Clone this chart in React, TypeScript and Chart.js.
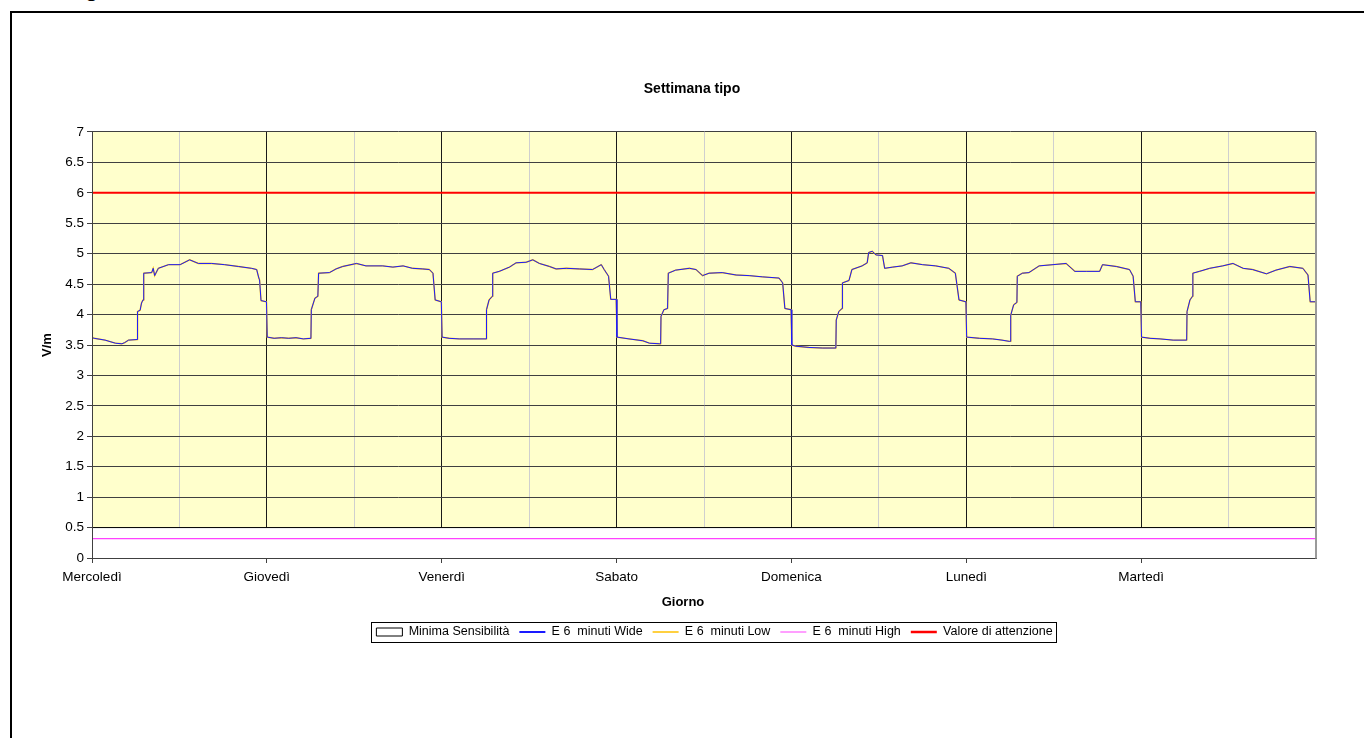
import React, { useEffect, useRef } from "react";
import { Chart, registerables } from "chart.js";

Chart.register(...registerables);

// ---- data (hours from the start of each day, V/m) ----
const dayNames = ["Mercoledì", "Giovedì", "Venerdì", "Sabato", "Domenica", "Lunedì", "Martedì"];

const mercoledi: number[][] = [
  [0, 4.2], [0.05, 3.62], [0.3, 3.61], [1.8, 3.58], [3.2, 3.53], [4.1, 3.52], [4.5, 3.54], [5, 3.58],
  [6.2, 3.59], [6.25, 4.05], [6.6, 4.07], [6.8, 4.19], [7.0, 4.24], [7.1, 4.68], [8.2, 4.69], [8.4, 4.76],
  [8.6, 4.64], [9.1, 4.76], [10.5, 4.82], [12.1, 4.82], [13.4, 4.9], [14.6, 4.84], [16.4, 4.84], [18.2, 4.82],
  [20.1, 4.79], [21.9, 4.76], [22.6, 4.74], [22.9, 4.6], [23.0, 4.57], [23.2, 4.23], [23.95, 4.21],
];
const giovedi: number[][] = [
  [0.05, 3.63], [1, 3.61], [2, 3.62], [3, 3.61], [4, 3.62], [5, 3.6], [6.05, 3.61], [6.1, 4.08], [6.6, 4.27],
  [7.0, 4.3], [7.1, 4.68], [8.6, 4.69], [9.5, 4.75], [10.4, 4.79], [12.3, 4.84], [13.6, 4.8], [15.9, 4.8],
  [17.3, 4.78], [18.7, 4.8], [20, 4.76], [21.4, 4.75], [22.3, 4.74], [22.8, 4.68], [23.1, 4.24], [23.95, 4.21],
];
const venerdi: number[][] = [
  [0.05, 3.63], [1, 3.61], [2.4, 3.6], [4.3, 3.6], [6.1, 3.6], [6.15, 4.08], [6.5, 4.24], [6.95, 4.3],
  [7.0, 4.68], [7.9, 4.71], [9.3, 4.78], [10.2, 4.85], [11.6, 4.86], [12.5, 4.9], [13.4, 4.84], [14.8, 4.79],
  [15.7, 4.75], [17.1, 4.76], [18.9, 4.75], [20.7, 4.74], [21.9, 4.82], [22.3, 4.74], [22.9, 4.63],
  [23.2, 4.25], [23.95, 4.25],
];
const sabato: number[][] = [
  [0.05, 3.63], [1.7, 3.6], [3.6, 3.57], [4.5, 3.53], [5.9, 3.52], [6.05, 3.52], [6.1, 3.97], [6.5, 4.08],
  [7.0, 4.1], [7.1, 4.68], [8.1, 4.73], [10, 4.76], [10.9, 4.74], [11.8, 4.64], [12.7, 4.68], [14.5, 4.69],
  [16.4, 4.65], [18.2, 4.64], [20, 4.62], [22.3, 4.6], [22.8, 4.52], [23.1, 4.1], [23.95, 4.08],
];
const domenica: number[][] = [
  [0.05, 3.5], [0.6, 3.48], [2.4, 3.46], [4.3, 3.45], [6.1, 3.45], [6.15, 3.91], [6.5, 4.05], [6.95, 4.1],
  [7.0, 4.52], [7.9, 4.56], [8.3, 4.74], [9.7, 4.8], [10.4, 4.85], [10.6, 5.02], [11.1, 5.04], [11.6, 4.98],
  [12.5, 4.97], [12.8, 4.76], [13.9, 4.78], [15.2, 4.8], [16.4, 4.85], [18, 4.82], [19.8, 4.8], [21.6, 4.76],
  [22.5, 4.68], [23, 4.24], [23.95, 4.21],
];
const lunedi: number[][] = [
  [0.05, 3.63], [1.8, 3.61], [3.6, 3.6], [4.9, 3.58], [5.9, 3.56], [6.05, 3.56], [6.1, 3.99], [6.5, 4.16],
  [6.95, 4.2], [7.0, 4.63], [7.7, 4.68], [8.6, 4.69], [10, 4.8], [11.9, 4.82], [13.7, 4.84], [14.9, 4.71],
  [16.5, 4.71], [18.3, 4.71], [18.7, 4.82], [20.6, 4.79], [22.4, 4.74], [22.9, 4.63], [23.2, 4.21], [23.95, 4.21],
];
const martedi: number[][] = [
  [0.05, 3.63], [1.2, 3.61], [2.6, 3.6], [4.4, 3.58], [6.25, 3.58], [6.3, 4.05], [6.7, 4.24], [7.05, 4.3],
  [7.1, 4.68], [8, 4.71], [9.4, 4.76], [11.2, 4.8], [12.6, 4.84], [14, 4.76], [15.3, 4.74], [17.2, 4.67],
  [18.5, 4.73], [20.4, 4.79], [22.2, 4.76], [22.9, 4.65], [23.2, 4.21], [24, 4.21],
];
const weekDays = [mercoledi, giovedi, venerdi, sabato, domenica, lunedi, martedi];

const minimaSensibilita = [[0, 0.5], [168, 0.5]];
const e6High = [[0, 0.32], [168, 0.32]];
const valoreAttenzione = [[0, 6], [168, 6]];

const yMin = 0;
const yMax = 7;
const yStep = 0.5;
const weekHours = 168;

const toXY = (pairs: number[][]) => pairs.map(([x, y]) => ({ x, y }));
const weekSeries = () =>
  weekDays.flatMap((day, d) => day.map(([h, v]) => ({ x: d * 24 + h, y: v })));

const FONT = '"Liberation Sans", Arial, sans-serif';

const plotBg = {
  id: "plotBg",
  beforeDraw(chart: any) {
    const { ctx, chartArea: a } = chart;
    ctx.save();
    ctx.fillStyle = "#FFFFCC";
    ctx.fillRect(a.left, a.top, a.right - a.left, a.bottom - a.top);
    ctx.restore();
  },
};

const plotFrame = {
  id: "plotFrame",
  afterDatasetsDraw(chart: any) {
    const { ctx, chartArea: a } = chart;
    ctx.save();
    ctx.lineWidth = 1;
    ctx.strokeStyle = "#404040";
    const l = Math.round(a.left) + 0.5;
    const b = Math.round(a.bottom) + 0.5;
    ctx.beginPath();
    ctx.moveTo(l, a.top);
    ctx.lineTo(l, b);
    ctx.lineTo(a.right, b);
    ctx.stroke();
    ctx.strokeStyle = "#9a9a9a";
    ctx.lineWidth = 2;
    ctx.beginPath();
    ctx.moveTo(Math.round(a.right), a.top);
    ctx.lineTo(Math.round(a.right), b);
    ctx.stroke();
    ctx.restore();
  },
};

const blockShift = {
  id: "blockShift",
  afterLayout(chart: any) {
    const lg = chart.legend;
    if (lg) {
      lg.left += 51.5;
      lg.right += 51.5;
    }
    const tb = chart.titleBlock;
    if (tb) {
      tb.left += 29;
      tb.right += 29;
    }
  },
  afterDraw(chart: any) {
    const lg = chart.legend;
    const { ctx, chartArea: a } = chart;
    if (lg && lg.legendHitBoxes && lg.legendHitBoxes.length) {
      const hb = lg.legendHitBoxes;
      const left = Math.min(...hb.map((h: any) => h.left));
      const right = Math.max(...hb.map((h: any) => h.left + h.width));
      const top = Math.min(...hb.map((h: any) => h.top));
      const bottom = Math.max(...hb.map((h: any) => h.top + h.height));
      ctx.save();
      ctx.strokeStyle = "#000";
      ctx.lineWidth = 1;
      ctx.strokeRect(Math.round(left - 5) + 0.5, Math.round(top - 4) + 0.5, Math.round(right - left + 9), Math.round(bottom - top + 7));
      ctx.restore();
    }
    // x axis title
    ctx.save();
    ctx.font = `bold 13px ${FONT}`;
    ctx.fillStyle = "#000";
    ctx.textAlign = "center";
    ctx.textBaseline = "middle";
    ctx.fillText("Giorno", (a.left + a.right) / 2 - 21, a.bottom + 44);
    ctx.restore();
  },
};

const legendLineWidths = [1, 2, 1.5, 1.2, 2.5];

export default function App() {
  const ref = useRef<HTMLCanvasElement | null>(null);

  useEffect(() => {
    if (!ref.current) return;
    Chart.defaults.font.family = FONT;
    Chart.defaults.color = "#000";
    const wide = weekSeries();
    const low = weekSeries();
    const baseGen = (Chart as any).defaults.plugins.legend.labels.generateLabels;
    const chart = new Chart(ref.current, {
      type: "line",
      data: {
        datasets: [
          {
            label: "Minima Sensibilità",
            data: toXY(minimaSensibilita),
            borderColor: "#000",
            backgroundColor: "#ffffff",
            borderWidth: 1,
            fill: "origin",
            pointRadius: 0,
            pointStyle: "rect",
            order: 10,
          },
          {
            label: "E 6  minuti Wide",
            data: wide,
            borderColor: "#1a1aff",
            backgroundColor: "#0000ff",
            borderWidth: 1,
            pointRadius: 0,
            pointStyle: "line",
            order: 1,
          },
          {
            label: "E 6  minuti Low",
            data: low,
            borderColor: "#ffc000",
            backgroundColor: "#ffc000",
            borderWidth: 1.4,
            pointRadius: 0,
            pointStyle: "line",
            order: 2,
          },
          {
            label: "E 6  minuti High",
            data: toXY(e6High),
            borderColor: "#ff40ff",
            backgroundColor: "#ff40ff",
            borderWidth: 1.2,
            pointRadius: 0,
            pointStyle: "line",
            order: 3,
          },
          {
            label: "Valore di attenzione",
            data: toXY(valoreAttenzione),
            borderColor: "#ff0000",
            backgroundColor: "#ff0000",
            borderWidth: 2,
            pointRadius: 0,
            pointStyle: "line",
            order: 4,
          },
        ],
      } as any,
      options: {
        animation: false,
        responsive: false,
        devicePixelRatio: 1,
        events: [],
        layout: { padding: { top: 0, left: 0, right: 58, bottom: 89.75 } },
        plugins: {
          title: {
            display: true,
            text: "Settimana tipo",
            color: "#000",
            font: { size: 14, weight: "bold" },
            padding: { top: 69.6, bottom: 34.6 },
          },
          legend: {
            position: "bottom",
            labels: {
              usePointStyle: true,
              pointStyleWidth: 26,
              boxHeight: 8,
              padding: 10,
              color: "#000",
              font: { size: 12.5 },
              sort: (a: any, b: any) => a.datasetIndex - b.datasetIndex,
              generateLabels: (c: any) =>
                baseGen(c).map((it: any) => ({ ...it, lineWidth: legendLineWidths[it.datasetIndex] })),
            },
          },
          tooltip: { enabled: false },
        },
        scales: {
          x: {
            type: "linear",
            min: 0,
            max: weekHours,
            ticks: {
              stepSize: 12,
              autoSkip: false,
              maxRotation: 0,
              color: "#000",
              font: { size: 13.5 },
              padding: 6,
              callback: (v: any) => {
                const n = Number(v);
                return n % 24 === 0 && n < weekHours ? dayNames[n / 24] : "";
              },
            },
            grid: {
              lineWidth: 1,
              tickLength: 5,
              color: (c: any) => {
                const v = c.tick ? c.tick.value : 0;
                if (v >= weekHours) return "rgba(0,0,0,0)";
                return v % 24 === 0 ? "#1a1a1a" : "#cfcfcf";
              },
              tickColor: (c: any) => {
                const v = c.tick ? c.tick.value : 0;
                return v % 24 === 0 && v < weekHours ? "#404040" : "rgba(0,0,0,0)";
              },
            },
            border: { color: "#404040" },
            afterFit: (s: any) => {
              s.height = 57.75;
            },
          },
          y: {
            min: yMin,
            max: yMax,
            ticks: {
              stepSize: yStep,
              color: "#000",
              font: { size: 13.5 },
              padding: 3,
              callback: (v: any) => String(v),
            },
            grid: { color: "#404040", lineWidth: 1, tickLength: 5 },
            border: { color: "#404040" },
            title: {
              display: true,
              text: "V/m",
              color: "#000",
              font: { size: 13, weight: "bold" },
              padding: { top: 30, bottom: 0 },
            },
            afterFit: (s: any) => {
              s.width = 82;
            },
          },
        },
      } as any,
      plugins: [plotBg, plotFrame, blockShift],
    });
    return () => chart.destroy();
  }, []);

  return (
    <div style={{ position: "fixed", left: 0, top: 0, width: 1364, height: 738, overflow: "hidden", background: "#fff" }}>
      <div
        style={{
          position: "absolute",
          left: 85,
          top: -22,
          font: `bold 22px ${FONT}`,
          lineHeight: "22px",
          color: "#000",
        }}
      >
        g
      </div>
      <div
        style={{
          position: "absolute",
          left: 10,
          top: 11,
          width: 1400,
          height: 800,
          borderTop: "2px solid #000",
          borderLeft: "2px solid #000",
        }}
      />
      <canvas ref={ref} width={1364} height={727} style={{ position: "absolute", left: 10, top: 11 }} />
    </div>
  );
}
